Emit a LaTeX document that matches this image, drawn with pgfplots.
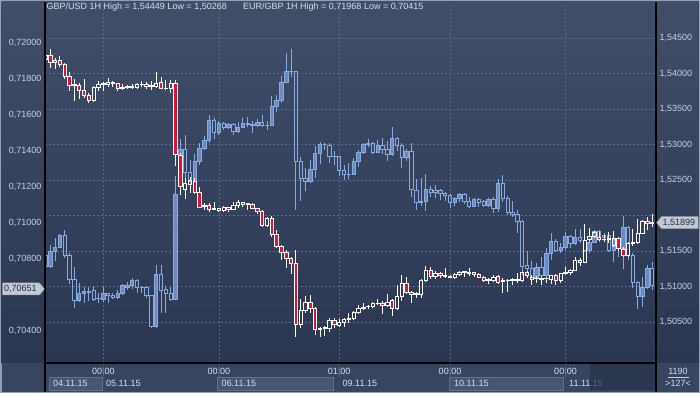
\documentclass[border=0pt]{standalone}
\usepackage{pgfplots}
\pgfplotsset{compat=1.18}
\usepackage{pgfplotstable}
\usepackage{fontspec}
\setmainfont{Liberation Sans}

\definecolor{bgtop}{RGB}{64,78,106}
\definecolor{bgbot}{RGB}{43,55,81}
\definecolor{gridc}{RGB}{90,106,138}
\definecolor{lbl}{RGB}{200,210,228}
\definecolor{hdr}{RGB}{215,222,235}
\definecolor{bluel}{RGB}{135,170,225}
\definecolor{bluef}{RGB}{108,138,190}
\definecolor{redc}{RGB}{228,18,50}
\definecolor{band}{RGB}{56,69,96}
\definecolor{boxc}{RGB}{72,86,114}
\definecolor{boxb}{RGB}{98,112,140}
\definecolor{darkb}{RGB}{38,49,73}
\definecolor{framec}{RGB}{150,160,178}
\definecolor{markc}{RGB}{196,201,211}
\definecolor{markd}{RGB}{150,158,172}
\definecolor{mtext}{RGB}{35,45,65}

% GBP/USD 1H (right scale): i open high low close
\pgfplotstableread{
i o h l c
0 1.54203 1.54279 1.54194 1.54265
1 1.54265 1.54349 1.54077 1.54161
2 1.54166 1.54227 1.54062 1.54194
3 1.54185 1.54250 1.54100 1.54133
4 1.54138 1.54156 1.53921 1.53968
5 1.53964 1.54029 1.53762 1.53832
6 1.53837 1.53921 1.53620 1.53846
7 1.53837 1.53874 1.53639 1.53762
8 1.53766 1.53921 1.53663 1.53696
9 1.53696 1.53733 1.53592 1.53620
10 1.53620 1.53827 1.53606 1.53809
11 1.53809 1.53898 1.53762 1.53851
12 1.53856 1.53884 1.53762 1.53865
13 1.53856 1.53935 1.53809 1.53874
14 1.53870 1.53903 1.53809 1.53879
15 1.53865 1.53874 1.53762 1.53794
16 1.53799 1.53856 1.53771 1.53809
17 1.53809 1.53837 1.53780 1.53818
18 1.53813 1.53860 1.53790 1.53823
19 1.53809 1.53874 1.53790 1.53856
20 1.53846 1.53903 1.53818 1.53856
21 1.53851 1.53888 1.53790 1.53823
22 1.53823 1.53903 1.53771 1.53832
23 1.53827 1.54025 1.53804 1.53870
24 1.53874 1.53959 1.53780 1.53799
25 1.53790 1.53912 1.53780 1.53799
26 1.53794 1.53912 1.53733 1.53865
27 1.53865 1.53912 1.52704 1.52863
28 1.52854 1.52878 1.52290 1.52408
29 1.52370 1.52525 1.52229 1.52455
30 1.52445 1.52549 1.52314 1.52492
31 1.52478 1.52525 1.52314 1.52323
32 1.52328 1.52398 1.52102 1.52116
33 1.52135 1.52182 1.52078 1.52149
34 1.52149 1.52172 1.52055 1.52088
35 1.52088 1.52196 1.52078 1.52097
36 1.52102 1.52111 1.52055 1.52078
37 1.52078 1.52135 1.52055 1.52121
38 1.52116 1.52125 1.52055 1.52088
39 1.52088 1.52191 1.52078 1.52144
40 1.52144 1.52219 1.52102 1.52191
41 1.52187 1.52196 1.52125 1.52163
42 1.52163 1.52182 1.52078 1.52172
43 1.52163 1.52172 1.52093 1.52102
44 1.52102 1.52111 1.52022 1.52055
45 1.52060 1.52074 1.51843 1.51862
46 1.51862 1.51984 1.51834 1.51956
47 1.51956 1.51994 1.51693 1.51735
48 1.51735 1.51796 1.51552 1.51561
49 1.51571 1.51585 1.51373 1.51477
50 1.51486 1.51514 1.51265 1.51392
51 1.51397 1.51420 1.51171 1.51326
52 1.51326 1.51514 1.50292 1.50471
53 1.50471 1.50818 1.50419 1.50659
54 1.50659 1.50866 1.50630 1.50771
55 1.50776 1.50875 1.50630 1.50692
56 1.50692 1.50715 1.50315 1.50395
57 1.50395 1.50433 1.50282 1.50409
58 1.50405 1.50442 1.50301 1.50419
59 1.50405 1.50550 1.50362 1.50522
60 1.50518 1.50550 1.50409 1.50461
61 1.50452 1.50536 1.50433 1.50494
62 1.50489 1.50555 1.50433 1.50532
63 1.50536 1.50621 1.50480 1.50550
64 1.50550 1.50659 1.50527 1.50630
65 1.50630 1.50734 1.50607 1.50687
66 1.50696 1.50771 1.50668 1.50710
67 1.50715 1.50734 1.50687 1.50720
68 1.50715 1.50786 1.50706 1.50762
69 1.50757 1.50828 1.50734 1.50767
70 1.50762 1.50800 1.50612 1.50734
71 1.50734 1.50894 1.50715 1.50781
72 1.50800 1.50818 1.50583 1.50692
73 1.50687 1.51016 1.50668 1.50866
74 1.50856 1.51162 1.50800 1.51044
75 1.51044 1.51129 1.50903 1.50912
76 1.50917 1.50941 1.50771 1.50889
77 1.50894 1.50927 1.50833 1.50903
78 1.50889 1.51100 1.50842 1.51091
79 1.51091 1.51289 1.51058 1.51232
80 1.51232 1.51270 1.51100 1.51138
81 1.51138 1.51223 1.51100 1.51180
82 1.51185 1.51209 1.51115 1.51152
83 1.51143 1.51256 1.51115 1.51152
84 1.51133 1.51162 1.51115 1.51138
85 1.51124 1.51185 1.51100 1.51166
86 1.51166 1.51223 1.51147 1.51199
87 1.51199 1.51223 1.51129 1.51209
88 1.51190 1.51260 1.51147 1.51199
89 1.51195 1.51209 1.51138 1.51166
90 1.51171 1.51185 1.51115 1.51129
91 1.51133 1.51147 1.51068 1.51091
92 1.51086 1.51115 1.51030 1.51096
93 1.51082 1.51166 1.51063 1.51133
94 1.51138 1.51157 1.51035 1.51054
95 1.51077 1.51119 1.50912 1.51086
96 1.51082 1.51100 1.50927 1.51086
97 1.51086 1.51119 1.51021 1.51096
98 1.51086 1.51185 1.51044 1.51096
99 1.51082 1.51209 1.51068 1.51199
100 1.51204 1.51223 1.51115 1.51157
101 1.51129 1.51162 1.51021 1.51105
102 1.51110 1.51147 1.51044 1.51119
103 1.51105 1.51147 1.51021 1.51115
104 1.51110 1.51138 1.51044 1.51115
105 1.51100 1.51162 1.51035 1.51152
106 1.51157 1.51171 1.51021 1.51091
107 1.51082 1.51195 1.51054 1.51185
108 1.51185 1.51270 1.51162 1.51199
109 1.51195 1.51246 1.51162 1.51228
110 1.51232 1.51420 1.51213 1.51373
111 1.51373 1.51397 1.51289 1.51340
112 1.51340 1.51876 1.51326 1.51655
113 1.51665 1.51820 1.51646 1.51707
114 1.51707 1.51777 1.51679 1.51763
115 1.51698 1.51773 1.51646 1.51669
116 1.51660 1.51726 1.51632 1.51669
117 1.51665 1.51773 1.51608 1.51674
118 1.51585 1.51777 1.51561 1.51674
119 1.51674 1.51702 1.51505 1.51538
120 1.51528 1.51561 1.51420 1.51439
121 1.51439 1.51632 1.51420 1.51608
122 1.51608 1.51806 1.51571 1.51622
123 1.51618 1.51947 1.51608 1.51745
124 1.51749 1.51937 1.51740 1.51919
125 1.51919 1.51975 1.51796 1.51890
126 1.51890 1.52022 1.51843 1.51899
}\gbpusd

% EUR/GBP 1H (left scale): i open high low close
\pgfplotstableread{
i o h l c
0 0.70820 0.70831 0.70754 0.70757
1 0.70757 0.70878 0.70754 0.70844
2 0.70841 0.70915 0.70791 0.70865
3 0.70865 0.70939 0.70859 0.70928
4 0.70928 0.70961 0.70807 0.70817
5 0.70820 0.70831 0.70659 0.70687
6 0.70687 0.70757 0.70526 0.70568
7 0.70568 0.70665 0.70563 0.70609
8 0.70609 0.70646 0.70554 0.70617
9 0.70615 0.70642 0.70568 0.70622
10 0.70624 0.70650 0.70568 0.70576
11 0.70580 0.70609 0.70554 0.70578
12 0.70576 0.70642 0.70563 0.70609
13 0.70609 0.70613 0.70557 0.70596
14 0.70600 0.70609 0.70576 0.70589
15 0.70587 0.70628 0.70576 0.70611
16 0.70609 0.70661 0.70600 0.70654
17 0.70642 0.70674 0.70628 0.70654
18 0.70654 0.70694 0.70631 0.70681
19 0.70683 0.70687 0.70609 0.70642
20 0.70644 0.70650 0.70609 0.70642
21 0.70642 0.70650 0.70581 0.70596
22 0.70596 0.70600 0.70415 0.70424
23 0.70424 0.70767 0.70415 0.70715
24 0.70715 0.70765 0.70502 0.70624
25 0.70628 0.70650 0.70502 0.70609
26 0.70609 0.70646 0.70568 0.70576
27 0.70576 0.71263 0.70572 0.71156
28 0.71206 0.71467 0.71183 0.71406
29 0.71406 0.71487 0.71230 0.71280
30 0.71280 0.71350 0.71217 0.71230
31 0.71230 0.71381 0.71220 0.71344
32 0.71344 0.71443 0.71322 0.71415
33 0.71415 0.71483 0.71406 0.71456
34 0.71456 0.71600 0.71443 0.71567
35 0.71567 0.71581 0.71467 0.71504
36 0.71504 0.71568 0.71489 0.71554
37 0.71554 0.71563 0.71517 0.71528
38 0.71530 0.71557 0.71520 0.71548
39 0.71548 0.71554 0.71489 0.71507
40 0.71507 0.71563 0.71504 0.71531
41 0.71531 0.71581 0.71526 0.71554
42 0.71552 0.71587 0.71535 0.71546
43 0.71546 0.71568 0.71502 0.71544
44 0.71541 0.71576 0.71531 0.71557
45 0.71557 0.71600 0.71531 0.71541
46 0.71542 0.71568 0.71517 0.71544
47 0.71544 0.71707 0.71541 0.71648
48 0.71648 0.71711 0.71619 0.71681
49 0.71681 0.71817 0.71668 0.71781
50 0.71781 0.71943 0.71776 0.71843
51 0.71843 0.71968 0.71813 0.71844
52 0.71843 0.71846 0.71072 0.71341
53 0.71341 0.71368 0.71124 0.71248
54 0.71248 0.71304 0.71180 0.71230
55 0.71230 0.71350 0.71224 0.71298
56 0.71298 0.71428 0.71248 0.71387
57 0.71387 0.71452 0.71328 0.71437
58 0.71435 0.71443 0.71406 0.71437
59 0.71433 0.71443 0.71331 0.71368
60 0.71370 0.71402 0.71322 0.71368
61 0.71368 0.71372 0.71261 0.71294
62 0.71294 0.71322 0.71239 0.71270
63 0.71272 0.71331 0.71243 0.71270
64 0.71272 0.71359 0.71267 0.71341
65 0.71341 0.71406 0.71313 0.71391
66 0.71391 0.71443 0.71387 0.71437
67 0.71439 0.71465 0.71424 0.71441
68 0.71443 0.71448 0.71383 0.71394
69 0.71394 0.71461 0.71387 0.71430
70 0.71431 0.71470 0.71383 0.71411
71 0.71411 0.71456 0.71346 0.71383
72 0.71383 0.71535 0.71372 0.71470
73 0.71470 0.71480 0.71402 0.71433
74 0.71433 0.71446 0.71304 0.71365
75 0.71365 0.71409 0.71346 0.71398
76 0.71398 0.71443 0.71143 0.71187
77 0.71183 0.71243 0.71072 0.71115
78 0.71113 0.71248 0.71094 0.71117
79 0.71117 0.71272 0.71068 0.71187
80 0.71187 0.71207 0.71146 0.71170
81 0.71178 0.71211 0.71137 0.71170
82 0.71178 0.71187 0.71128 0.71163
83 0.71165 0.71174 0.71124 0.71154
84 0.71154 0.71161 0.71081 0.71113
85 0.71113 0.71146 0.71096 0.71137
86 0.71137 0.71168 0.71118 0.71159
87 0.71159 0.71165 0.71106 0.71120
88 0.71120 0.71146 0.71081 0.71094
89 0.71094 0.71137 0.71087 0.71131
90 0.71131 0.71137 0.71087 0.71113
91 0.71120 0.71128 0.71091 0.71098
92 0.71096 0.71137 0.71087 0.71128
93 0.71128 0.71143 0.71054 0.71080
94 0.71078 0.71244 0.71063 0.71220
95 0.71220 0.71267 0.71118 0.71137
96 0.71137 0.71152 0.71043 0.71056
97 0.71059 0.71122 0.71035 0.71048
98 0.71048 0.71072 0.70943 0.71007
99 0.71007 0.71017 0.70711 0.70761
100 0.70763 0.70846 0.70711 0.70748
101 0.70748 0.70791 0.70655 0.70691
102 0.70698 0.70776 0.70683 0.70754
103 0.70754 0.70813 0.70692 0.70707
104 0.70707 0.70859 0.70692 0.70831
105 0.70831 0.70943 0.70794 0.70900
106 0.70900 0.70909 0.70841 0.70850
107 0.70850 0.70887 0.70835 0.70863
108 0.70865 0.70950 0.70850 0.70926
109 0.70926 0.70933 0.70859 0.70887
110 0.70887 0.70965 0.70878 0.70920
111 0.70920 0.70965 0.70887 0.70904
112 0.70904 0.70915 0.70841 0.70850
113 0.70850 0.70915 0.70835 0.70893
114 0.70893 0.70961 0.70887 0.70952
115 0.70952 0.70961 0.70896 0.70911
116 0.70931 0.70943 0.70905 0.70917
117 0.70930 0.70952 0.70841 0.70850
118 0.70850 0.70924 0.70785 0.70909
119 0.70909 0.70924 0.70813 0.70857
120 0.70857 0.71039 0.70742 0.70976
121 0.70976 0.70983 0.70794 0.70817
122 0.70820 0.70831 0.70637 0.70668
123 0.70670 0.70680 0.70520 0.70591
124 0.70591 0.70698 0.70531 0.70644
125 0.70642 0.70767 0.70631 0.70748
126 0.70748 0.70781 0.70628 0.70651
}\eurgbp

\pgfplotsset{
  base/.style={at={(45pt,30pt)}, anchor=south west, scale only axis,
    width=611pt, height=360pt, xmin=-0.104, xmax=126.79,
    enlargelimits=false, clip=true},
  gbp/.style={base, ymin=1.499205, ymax=1.549979},
  eur/.style={base, ymin=0.702221, ymax=0.722222},
  tl/.style={font=\fontsize{9}{10}\selectfont, text=lbl},
}

\begin{document}
\begin{tikzpicture}[x=1pt,y=1pt]
% backgrounds
\fill[framec] (0,0) rectangle (700,393);
\shade[top color=bgtop, bottom color=bgbot] (1.5,30) rectangle (698.5,391.5);
\fill[band] (1.5,1.5) rectangle (698.5,30);
\filldraw[fill=boxc, draw=boxb, line width=0.6pt] (49,3) rectangle (102,16);
\filldraw[fill=boxc, draw=boxb, line width=0.6pt] (217,3) rectangle (333,16);
\filldraw[fill=boxc, draw=boxb, line width=0.6pt] (449,3) rectangle (563,16);

% grid (GBP/USD scale)
\begin{axis}[gbp, axis line style={draw=none}, major tick length=0pt,
  xtick={12,36,61,84,108}, xticklabels={},
  ytick={1.505,1.51,1.515,1.52,1.525,1.53,1.535,1.54,1.545}, yticklabels={},
  xmajorgrids, ymajorgrids,
  grid style={gridc, dash pattern=on 2pt off 2pt, line width=0.6pt}]
\addplot[draw=none] coordinates {(0,1.52)};
\end{axis}

% right (GBP/USD) tick labels; 1,52000 lies under the price marker
\begin{axis}[gbp, axis line style={draw=none}, major tick length=0pt,
  xtick=\empty,
  ytick={1.505,1.51,1.515,1.525,1.53,1.535,1.54,1.545},
  scaled y ticks=false, yticklabel pos=right,
  yticklabel={\pgfmathprintnumber[fixed,fixed zerofill,precision=5,use comma,assume math mode=true]{\tick}},
  yticklabel style={tl}]
\addplot[draw=none] coordinates {(0,1.52)};
\end{axis}

% left (EUR/GBP) tick labels (0,70600 lies under the marker) + blue wicks
\begin{axis}[eur, axis line style={draw=none}, major tick length=0pt,
  xtick=\empty,
  ytick={0.704,0.708,0.71,0.712,0.714,0.716,0.718,0.72},
  scaled y ticks=false, yticklabel pos=left,
  yticklabel={\pgfmathprintnumber[fixed,fixed zerofill,precision=5,use comma,assume math mode=true]{\tick}},
  yticklabel style={tl}]
\addplot[draw=none, mark=none, error bars/.cd, y dir=both, y explicit, error mark=none,
  error bar style={draw=bluel, line width=0.9pt, solid}]
  table[x=i, y expr={max(\thisrow{o},\thisrow{c})},
        y error plus expr={\thisrow{h}-max(\thisrow{o},\thisrow{c})},
        y error minus expr={0}] {\eurgbp};
\addplot[draw=none, mark=none, error bars/.cd, y dir=both, y explicit, error mark=none,
  error bar style={draw=bluel, line width=0.9pt, solid}]
  table[x=i, y expr={min(\thisrow{o},\thisrow{c})},
        y error plus expr={0},
        y error minus expr={min(\thisrow{o},\thisrow{c})-\thisrow{l}}] {\eurgbp};
\end{axis}

% blue bodies
\begin{axis}[eur, hide axis, ybar stacked, bar width=3.4pt]
\addplot[draw=none, fill=none] table[x=i, y expr={min(\thisrow{o},\thisrow{c})}] {\eurgbp};
\addplot[draw=bluel, fill=bluef, line width=0.9pt] table[x=i, y expr={max(\thisrow{c}-\thisrow{o},0)}] {\eurgbp};
\addplot[draw=bluel, fill=none, line width=0.9pt] table[x=i, y expr={max(\thisrow{o}-\thisrow{c},0)}] {\eurgbp};
\end{axis}

% white wicks
\begin{axis}[gbp, hide axis]
\addplot[draw=none, mark=none, error bars/.cd, y dir=both, y explicit, error mark=none,
  error bar style={draw=white, line width=0.9pt, solid}]
  table[x=i, y expr={max(\thisrow{o},\thisrow{c})},
        y error plus expr={\thisrow{h}-max(\thisrow{o},\thisrow{c})},
        y error minus expr={0}] {\gbpusd};
\addplot[draw=none, mark=none, error bars/.cd, y dir=both, y explicit, error mark=none,
  error bar style={draw=white, line width=0.9pt, solid}]
  table[x=i, y expr={min(\thisrow{o},\thisrow{c})},
        y error plus expr={0},
        y error minus expr={min(\thisrow{o},\thisrow{c})-\thisrow{l}}] {\gbpusd};
\end{axis}

% white/red bodies
\begin{axis}[gbp, hide axis, ybar stacked, bar width=3.4pt]
\addplot[draw=none, fill=none] table[x=i, y expr={min(\thisrow{o},\thisrow{c})}] {\gbpusd};
\addplot[draw=white, fill=none, line width=0.9pt] table[x=i, y expr={max(\thisrow{c}-\thisrow{o},0)}] {\gbpusd};
\addplot[draw=white, fill=redc, line width=0.9pt] table[x=i, y expr={max(\thisrow{o}-\thisrow{c},0)}] {\gbpusd};
\end{axis}

% frame lines
\foreach \gx in {103.3,218.8,339.2,450.0,565.5}
  \draw[gridc, dash pattern=on 2pt off 2pt, line width=0.6pt] (\gx,30) -- (\gx,16);
\draw[black, line width=1.2pt] (45,1.5) -- (45,390.5);
\draw[black, line width=1.2pt] (656,1.5) -- (656,390.5);
\draw[black, line width=1.2pt] (45,30) -- (656,30);

% header
\node[anchor=west, inner sep=0, text=hdr, font=\fontsize{9}{10}\selectfont] at (46.5,385.5) {GBP/USD 1H High = 1,54449 Low = 1,50268};
\node[anchor=west, inner sep=0, text=hdr, font=\fontsize{9}{10}\selectfont] at (243,385.5) {EUR/GBP 1H High = 0,71968 Low = 0,70415};

% time axis
\begin{scope}[font=\fontsize{9}{10}\selectfont, text=hdr, inner sep=0]
\node at (103.3,21.5) {00:00};
\node at (218.8,21.5) {00:00};
\node at (339.2,21.5) {01:00};
\node at (450.0,21.5) {00:00};
\node at (565.5,21.5) {00:00};
\node[anchor=west] at (53,9.5) {04.11.15};
\node[anchor=west] at (106,9.5) {05.11.15};
\node[anchor=west] at (221.5,9.5) {06.11.15};
\node[anchor=west] at (342.5,9.5) {09.11.15};
\node[anchor=west] at (454,9.5) {10.11.15};
\node[anchor=west] at (569,9.5) {11.11.15};
\node at (678,22) {1190};
\node at (678,10) {>127<};
\end{scope}
\fill[darkb, opacity=0.7] (590,3) rectangle (655.4,29.4);
\draw[lbl, line width=0.5pt] (668,16) -- (689,16);

% price markers
\filldraw[fill=markc, draw=markd, line width=0.5pt] (656.6,170.3) -- (661.5,176.3) -- (698,176.3) -- (698,164.3) -- (661.5,164.3) -- cycle;
\node[anchor=west, inner sep=0, text=mtext, font=\fontsize{9}{10}\selectfont] at (662.5,170.3) {1,51899};
\filldraw[fill=markc, draw=markd, line width=0.5pt] (2.5,110) -- (39.5,110) -- (44.4,104) -- (39.5,98) -- (2.5,98) -- cycle;
\node[anchor=west, inner sep=0, text=mtext, font=\fontsize{9}{10}\selectfont] at (4,104) {0,70651};
\end{tikzpicture}
\end{document}
